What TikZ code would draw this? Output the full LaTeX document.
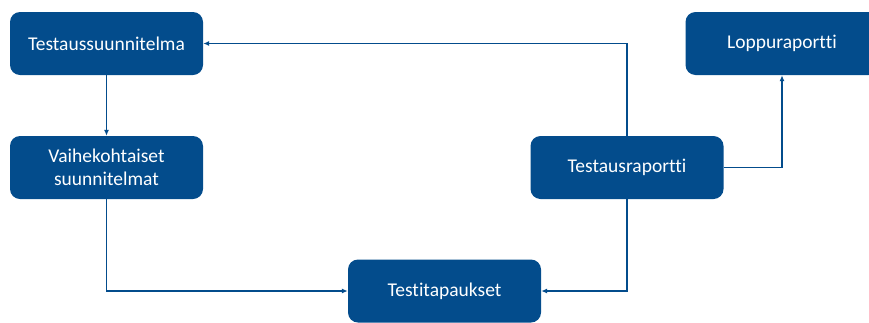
\documentclass[tikz,border=0pt]{standalone}
\usepackage{fontspec}
\setmainfont{Carlito}[Ligatures=NoCommon]
\usetikzlibrary{arrows.meta,positioning}

\definecolor{boxblue}{HTML}{034C8C}

\begin{document}
\begin{tikzpicture}[x=1pt,y=-1pt,
    box/.style={draw=none, fill=boxblue, text=white, rounded corners=10pt,
      minimum width=193pt, minimum height=63pt, align=center,
      font=\fontsize{19.5}{23}\selectfont},
    link/.style={draw=boxblue, line width=1.2pt, -{Latex[length=6pt,width=5pt]}}]
      \useasboundingbox (0,0) rectangle (869,322);
      \clip (0,0) rectangle (869,322);
      % planning side
      \node[box] (ts) at (106.5,43.5) {Testaussuunnitelma};
      \node[box] (vs) at (106.5,167.5) {Vaihekohtaiset\\suunnitelmat};
      \node[box] (tt) at (444.5,291) {Testitapaukset};
      % reporting side
      \node[box] (tr) at (627,167.5) {Testausraportti};
      \node[box] (lr) at (782,43.5) {Loppuraportti};
      \draw[link] (ts) -- (vs);
      \draw[link] (vs.south) |- (tt.west);
      \draw[link] (tr.south) |- (tt.east);
      \draw[link] (tr.north) |- (ts.east);
      \draw[link] (tr.east) -| (lr.south);
    \end{tikzpicture}
\end{document}
